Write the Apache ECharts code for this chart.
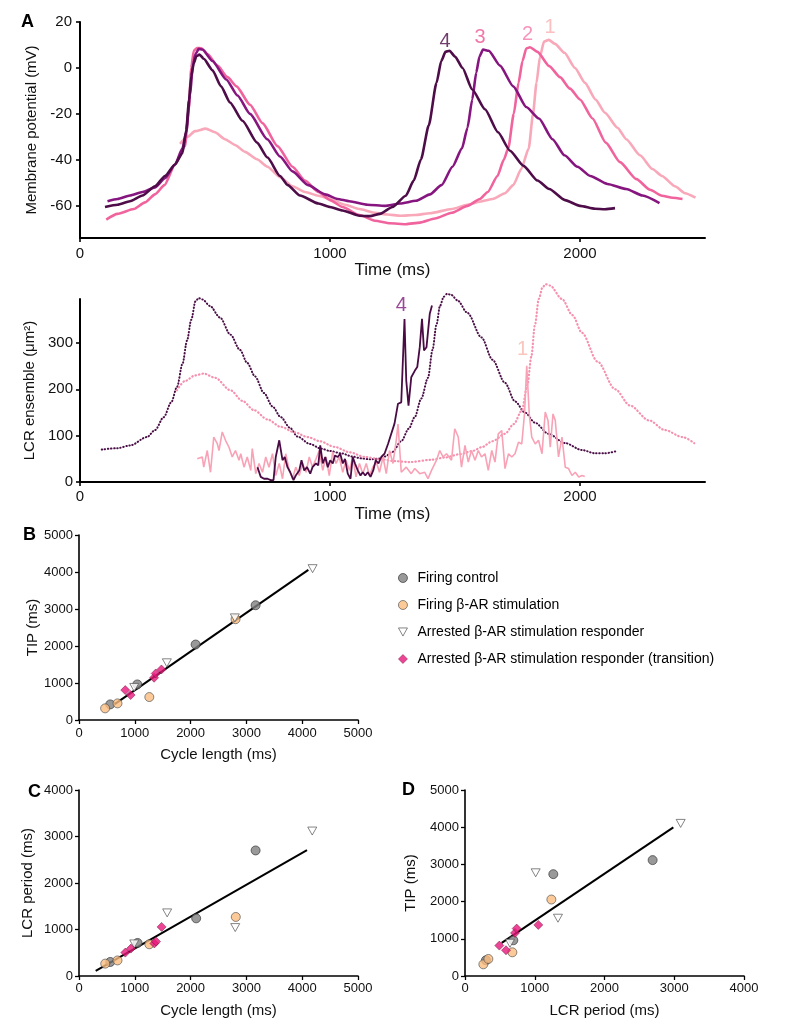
<!DOCTYPE html>
<html><head><meta charset="utf-8">
<script src="https://cdn.jsdelivr.net/npm/echarts@6/dist/echarts.min.js"></script>
<style>html,body{margin:0;padding:0;background:#fff}#c{width:800px;height:1034px}</style>
</head><body><div id="c"></div>
<script>
// ---------- Panel A (top): membrane potential traces [time ms, mV] ----------
const ap4 = [[100,-60.5],[150,-59.5],[200,-58],[250,-55.5],[300,-51.5],[340,-47],[380,-42],[410,-37],[425,-27],[436,-14],[445,-3.6],[455,2],[465,5],[478,5.8],[495,4],[530,-1],[564,-8],[600,-15],[650,-23],[708,-32.5],[750,-39],[800,-47],[831,-51],[880,-55.5],[954,-59],[1000,-60.5],[1050,-62],[1118,-64.3],[1160,-64.5],[1200,-63.5],[1250,-60.5],[1303,-55.6],[1335,-49],[1364,-39.7],[1395,-25],[1426,-6.5],[1445,3],[1462,7],[1478,7.5],[1500,5],[1530,0],[1569,-9.4],[1620,-18],[1672,-28],[1720,-36],[1774,-42.6],[1830,-49],[1877,-52.7],[1940,-57.5],[2000,-60],[2060,-61.3],[2100,-61.5],[2140,-61]];
const ap3 = [[110,-58],[150,-57],[200,-55.5],[250,-54],[300,-52],[340,-48],[380,-42],[410,-35],[425,-28],[440,-12],[451,0.8],[462,6],[475,8.3],[490,8],[530,3],[585,-5],[630,-12],[680,-20],[749,-31],[800,-38.5],[850,-45],[913,-51],[980,-55],[1030,-57],[1077,-58],[1150,-59.5],[1220,-60],[1280,-59],[1344,-57.8],[1400,-55],[1446,-51],[1490,-43],[1528,-35],[1550,-26],[1569,-13.7],[1585,-2],[1598,5],[1612,8],[1635,7.5],[1680,1],[1733,-8],[1785,-17],[1836,-22],[1890,-31],[1938,-38],[1990,-43],[2041,-47],[2110,-50.5],[2185,-52.7],[2250,-55.5],[2318,-58.8]];
const ap2 = [[105,-66],[150,-63.5],[215,-61.4],[260,-58.5],[300,-55],[338,-51],[380,-42],[420,-34],[435,-18],[445,0],[455,7.5],[468,8.7],[485,8.6],[510,6],[550,1],[590,-4],[626,-8],[680,-16],[730,-24],[790,-34],[850,-43],[900,-49],[954,-54],[1000,-57.5],[1050,-60.5],[1118,-64],[1180,-66.5],[1240,-67.6],[1303,-68],[1360,-67.3],[1420,-65.5],[1487,-63],[1550,-60],[1600,-57],[1631,-54],[1670,-47],[1695,-40],[1713,-35],[1735,-20],[1754,-6.5],[1770,3],[1785,8.5],[1800,9],[1830,7],[1877,0.8],[1920,-4],[1960,-9],[2000,-13.7],[2050,-22],[2103,-32.5],[2160,-41],[2226,-48.4],[2280,-53],[2328,-55.6],[2370,-56.5],[2410,-57]];
const ap1 = [[400,-33],[430,-30],[460,-27.5],[503,-26.4],[540,-28],[580,-31],[620,-33.5],[660,-36.5],[708,-39.7],[750,-43],[800,-47.5],[850,-51.5],[900,-54],[954,-55.6],[1000,-57],[1060,-59.5],[1118,-61.4],[1180,-63],[1230,-63.8],[1282,-64.3],[1340,-64],[1400,-63.2],[1487,-61.4],[1550,-59.5],[1600,-58.2],[1651,-57],[1700,-54.5],[1733,-51],[1765,-44],[1795,-35],[1812,-20],[1826,-6.5],[1840,5],[1856,11.5],[1875,12.2],[1900,10.5],[1938,6.6],[1980,0],[2020,-6.5],[2062,-13.7],[2100,-19.5],[2150,-26],[2185,-31],[2240,-38],[2290,-44],[2328,-47],[2380,-51.5],[2420,-54.5],[2462,-56.4]];
const apLabels = [['4',1460,11.7],['3',1600,13.2],['2',1790,14.7],['1',1880,17.5]];

// ---------- Panel A (bottom): LCR ensemble [time ms, um^2] ----------
const apDotted4 = [[87,70],[150,73],[201,79],[268,97],[300,112],[335,140],[365,172],[388,205],[410,255],[428,305],[445,350],[462,390],[475,397],[490,394],[520,380],[560,355],[602,318],[640,285],[669,257],[700,228],[736,192],[770,163],[803,140],[840,117],[870,98],[920,82],[964,72],[1000,67],[1044,62],[1090,55],[1124,51],[1160,49],[1190,50],[1220,55],[1250,65],[1285,88],[1315,115],[1339,140],[1365,180],[1392,225],[1410,285],[1426,340],[1440,380],[1455,400],[1468,406],[1485,404],[1510,392],[1550,365],[1606,312],[1650,264],[1700,214],[1740,174],[1780,150],[1820,128],[1874,104],[1940,84],[2008,69],[2060,62],[2100,62],[2141,66]];
const apDotted1 = [[388,198],[420,218],[460,230],[495,234],[540,225],[602,198],[650,175],[696,155],[750,135],[803,119],[860,107],[910,97],[960,88],[1017,76],[1080,64],[1138,54],[1205,49],[1260,45],[1320,43],[1406,48],[1460,53],[1520,60],[1570,67],[1606,75],[1650,88],[1700,104],[1735,125],[1767,154],[1790,210],[1805,270],[1820,340],[1835,395],[1850,420],[1862,427],[1880,424],[1928,395],[1970,360],[2008,322],[2070,260],[2141,200],[2200,165],[2276,133],[2340,112],[2410,97],[2457,84]];
const lcr1 = [[469,50],[489,54],[495,32],[509,68],[522,21],[535,97],[549,83],[556,68],[569,108],[582,90],[596,75],[609,54],[622,68],[636,47],[643,61],[656,32],[669,54],[683,25],[689,72],[703,18],[716,40],[730,21],[743,54],[756,32],[770,61],[783,14],[797,40],[810,7],[823,61],[837,25],[850,7],[863,32],[877,14],[890,40],[904,21],[917,54],[930,32],[944,50],[957,68],[971,25],[984,54],[997,14],[1011,65],[1024,40],[1037,54],[1051,21],[1064,47],[1078,25],[1091,54],[1104,11],[1118,40],[1131,18],[1145,40],[1158,14],[1171,32],[1185,43],[1198,21],[1212,54],[1225,18],[1238,68],[1252,40],[1265,90],[1272,125],[1285,21],[1305,32],[1325,18],[1339,29],[1359,18],[1379,21],[1392,7],[1406,25],[1426,47],[1439,68],[1452,54],[1466,61],[1486,47],[1499,115],[1513,97],[1526,32],[1540,79],[1553,43],[1566,68],[1580,47],[1593,68],[1606,54],[1620,61],[1633,25],[1647,68],[1660,43],[1673,104],[1687,111],[1700,29],[1714,61],[1727,54],[1740,61],[1754,86],[1767,82],[1778,147],[1787,251],[1797,147],[1807,97],[1821,82],[1834,90],[1848,61],[1861,151],[1872,133],[1881,75],[1892,147],[1901,133],[1914,54],[1928,97],[1941,32],[1954,29],[1968,14],[1981,21],[1995,11],[2008,14],[2019,12]];
const lcr4 = [[710,32],[723,11],[736,7],[750,7],[763,4],[774,4],[783,54],[797,90],[810,47],[819,54],[830,32],[841,21],[854,4],[863,14],[877,25],[886,47],[897,25],[908,32],[921,18],[930,32],[944,40],[953,36],[961,79],[971,40],[981,54],[991,32],[1001,47],[1011,40],[1020,57],[1031,54],[1041,61],[1051,40],[1060,50],[1071,18],[1082,7],[1091,54],[1100,40],[1111,25],[1122,14],[1131,21],[1141,14],[1151,21],[1162,11],[1173,25],[1183,47],[1194,40],[1205,54],[1218,61],[1232,82],[1245,104],[1258,126],[1272,169],[1285,172],[1298,352],[1305,219],[1314,165],[1325,226],[1339,240],[1349,248],[1359,291],[1368,352],[1376,284],[1386,291],[1399,363],[1408,381]];
const lcrLabels = [['4',1285,381],['1',1770,287]];

// ---------- Panels B, C, D: scatter [x, y] ----------
const groupNames = ['Firing control','Firing β-AR stimulation','Arrested β-AR stimulation responder','Arrested β-AR stimulation responder (transition)'];
// B: cycle length vs TIP
const ctrlB  = [[560,422],[1045,962],[2090,2040],[3165,3101]];
const betaB  = [[468,315],[690,449],[1260,620],[2805,2724]];
const arrB   = [[990,880],[1574,1546],[2793,2760],[4186,4090]];
const transB = [[829,809],[925,674],[1345,1142],[1375,1258],[1477,1366]];
// C: cycle length vs LCR period
const ctrlC  = [[560,302],[1050,711],[2100,1240],[3165,2700]];
const betaC  = [[470,266],[690,335],[1260,682],[2810,1270]];
const arrC   = [[990,690],[1580,1357],[2800,1041],[4180,3117]];
const transC = [[830,503],[930,589],[1350,700],[1380,740],[1480,1056]];
// D: LCR period vs TIP
const ctrlD  = [[300,422],[693,960],[1266,2738],[2690,3115]];
const betaD  = [[263,314],[335,458],[679,637],[1238,2056]];
const arrD   = [[645,880],[1013,2774],[1333,1553],[3092,4102]];
const transD = [[492,817],[588,691],[717,1158],[741,1275],[1051,1373]];
// linear fits: slope, intercept, x-range
const fitB = {slope:1.046, intercept:-240, from:640, to:4110};
const fitC = {slope:0.686, intercept:-97, from:299, to:4086};
const fitD = {slope:1.262, intercept:225, from:526, to:2987};

// ---------- styles ----------
const narrow = '"Liberation Sans Narrow","Arial Narrow","Liberation Sans",Arial,sans-serif';
const sans = '"Liberation Sans",Arial,Helvetica,sans-serif';
const cTrace = {'4':'#4e0c48','3':'#86157f','2':'#f0639d','1':'#f8a8b9'};
const cTopLabel = {'4':'#4e0c48','3':'#ee5596','2':'#f579aa','1':'#f9b0b3'};
const cLcrLabel = {'4':'#7e1a79','1':'#f8b8ac'};
const triDown = 'path://M0,0 L10,0 L5,9 Z';
const groupStyle = [
  {symbol:'circle', size:9, itemStyle:{color:'#7f7f7f', borderColor:'#2b2b2b', borderWidth:0.8}},
  {symbol:'circle', size:9, itemStyle:{color:'#fbbd80', borderColor:'#4a4a4a', borderWidth:0.8}},
  {symbol:triDown, size:[9,8], itemStyle:{color:'#ffffff', borderColor:'#555555', borderWidth:0.9}},
  {symbol:'diamond', size:9, itemStyle:{color:'#e8177c', borderColor:'#70103c', borderWidth:0.6}}
];

function fitLine(f){ return [[f.from, f.slope*f.from+f.intercept],[f.to, f.slope*f.to+f.intercept]]; }
const plain = v => String(v);

const axLine = w => ({show:true, onZero:false, lineStyle:{color:'#000', width:w}});
function xAx(grid, min, max, ticks, name, gap, font, fs, lblMargin, lw){
  return {type:'value', gridIndex:grid, min:min, max:max,
    axisLine:axLine(lw), splitLine:{show:false},
    axisTick:{show:true, length:4, lineStyle:{color:'#000', width:lw*0.8}, customValues:ticks},
    axisLabel:{customValues:ticks, formatter:plain, color:'#111', fontFamily:font, fontSize:fs, margin:lblMargin},
    name:name, nameLocation:'middle', nameGap:gap, nameTextStyle:{color:'#111', fontFamily:font, fontSize:fs+2}};
}
function yAx(grid, min, max, ticks, name, gap, font, fs, lblMargin, lw, nameFont){
  return {type:'value', gridIndex:grid, min:min, max:max,
    axisLine:axLine(lw), splitLine:{show:false},
    axisTick:{show:true, length:4, lineStyle:{color:'#000', width:lw*0.8}, customValues:ticks},
    axisLabel:{customValues:ticks, formatter:plain, color:'#111', fontFamily:font, fontSize:fs, margin:lblMargin},
    name:name, nameLocation:'middle', nameGap:gap, nameTextStyle:{color:'#111', fontFamily:nameFont||sans, fontSize:15}};
}

const series = [];
[['1',ap1],['2',ap2],['3',ap3],['4',ap4]].forEach(([k,d])=>{
  series.push({type:'line', xAxisIndex:0, yAxisIndex:0, data:d, showSymbol:false, smooth:0.2, smoothMonotone:'x',
    lineStyle:{color:cTrace[k], width:2.6}, silent:true, z:2});
});
series.push({type:'scatter', xAxisIndex:0, yAxisIndex:0, symbolSize:1, itemStyle:{color:'rgba(0,0,0,0)'}, silent:true,
  data:apLabels.map(([n,t,v])=>({name:n, value:[t,v], label:{color:cTopLabel[n]}})),
  label:{show:true, position:'inside', formatter:p=>p.name, fontFamily:narrow, fontSize:20}});
series.push({type:'line', xAxisIndex:1, yAxisIndex:1, data:apDotted4, showSymbol:false, smooth:0.3, smoothMonotone:'x', clip:false,
  lineStyle:{color:'#4b0f47', width:2, type:[0.5,2.6], cap:'round'}, silent:true});
series.push({type:'line', xAxisIndex:1, yAxisIndex:1, data:apDotted1, showSymbol:false, smooth:0.3, smoothMonotone:'x', clip:false,
  lineStyle:{color:'#f590ae', width:2.2, type:[0.5,3], cap:'round'}, silent:true});
series.push({type:'line', xAxisIndex:1, yAxisIndex:1, data:lcr1, showSymbol:false, clip:false,
  lineStyle:{color:'#f9a2b6', width:1.6}, silent:true});
series.push({type:'line', xAxisIndex:1, yAxisIndex:1, data:lcr4, showSymbol:false, clip:false,
  lineStyle:{color:'#4a0b44', width:1.8}, silent:true});
series.push({type:'scatter', xAxisIndex:1, yAxisIndex:1, symbolSize:1, itemStyle:{color:'rgba(0,0,0,0)'}, silent:true,
  data:lcrLabels.map(([n,t,v])=>({name:n, value:[t,v], label:{color:cLcrLabel[n]}})),
  label:{show:true, position:'inside', formatter:p=>p.name, fontFamily:narrow, fontSize:20}});

const panels = [[2,[ctrlB,betaB,arrB,transB],fitB],[3,[ctrlC,betaC,arrC,transC],fitC],[4,[ctrlD,betaD,arrD,transD],fitD]];
panels.forEach(([g,sets,fit])=>{
  series.push({type:'line', xAxisIndex:g, yAxisIndex:g, data:fitLine(fit), showSymbol:false,
    lineStyle:{color:'#000', width:2}, silent:true, z:2});
  sets.forEach((d,i)=>{
    const st = groupStyle[i];
    series.push({type:'scatter', name:groupNames[i], xAxisIndex:g, yAxisIndex:g, data:d,
      symbol:st.symbol, symbolSize:st.size, itemStyle:st.itemStyle, z:3+i, silent:true});
  });
});

const chart = echarts.init(document.getElementById('c'), null, {renderer:'canvas'});
chart.setOption({
  backgroundColor:'#fff',
  animation:false,
  grid:[
    {left:80, top:22, width:625, height:216},
    {left:80, top:299, width:625, height:183},
    {left:79, top:535, width:279, height:185},
    {left:79, top:790, width:279, height:186},
    {left:465, top:790, width:279, height:186}
  ],
  xAxis:[
    xAx(0,0,2500,[0,1000,2000],'Time (ms)',24,narrow,15,8,2),
    xAx(1,0,2500,[0,1000,2000],'Time (ms)',24,narrow,15,7,2),
    xAx(2,0,5000,[0,1000,2000,3000,4000,5000],'Cycle length (ms)',27,sans,13,7,1.6),
    xAx(3,0,5000,[0,1000,2000,3000,4000,5000],'Cycle length (ms)',27,sans,13,6,1.6),
    xAx(4,0,4000,[0,1000,2000,3000,4000],'LCR period (ms)',27,sans,13,6,1.6)
  ],
  yAxis:[
    yAx(0,-74,20,[-60,-40,-20,0,20],'Membrane potential (mV)',40,narrow,15,8,2),
    yAx(1,0,395,[0,100,200,300],'LCR ensemble (μm²)',38,narrow,15,7,2),
    yAx(2,0,5000,[0,1000,2000,3000,4000,5000],'TIP (ms)',37,sans,13,6,1.6),
    yAx(3,0,4000,[0,1000,2000,3000,4000],'LCR period (ms)',44,sans,13,6,1.6),
    yAx(4,0,5000,[0,1000,2000,3000,4000,5000],'TIP (ms)',47,sans,13,6,1.6)
  ],
  legend:{
    show:true, orient:'vertical', left:393, top:566, itemWidth:9, itemHeight:9, itemGap:13,
    data:groupNames.map((n,i)=>({name:n, icon:groupStyle[i].symbol, itemStyle:groupStyle[i].itemStyle})),
    textStyle:{color:'#000', fontFamily:sans, fontSize:14, padding:[0,0,0,5]},
    selectedMode:false
  },
  graphic:[
    {type:'text', left:21, top:13, style:{text:'A', font:'bold 18px '+sans, fill:'#000'}},
    {type:'text', left:23, top:526, style:{text:'B', font:'bold 18px '+sans, fill:'#000'}},
    {type:'text', left:28, top:783, style:{text:'C', font:'bold 18px '+sans, fill:'#000'}},
    {type:'text', left:402, top:781, style:{text:'D', font:'bold 18px '+sans, fill:'#000'}}
  ],
  series:series
});
</script></body></html>
